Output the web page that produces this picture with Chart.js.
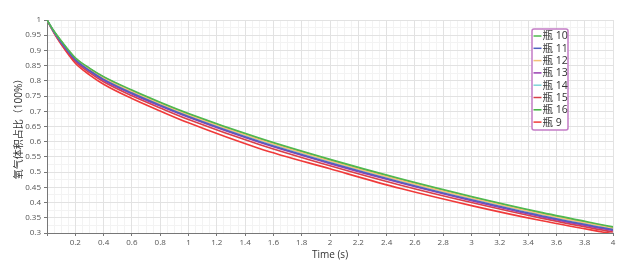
<!DOCTYPE html>
<html><head><meta charset="utf-8">
<script src="https://cdn.jsdelivr.net/npm/chart.js@4/dist/chart.umd.min.js"></script>
<style>html,body{margin:0;padding:0;background:#fff}#wrap{width:636px;height:274px}</style>
</head><body><div id="wrap"><canvas id="c" width="636" height="274"></canvas></div>
<script>
const times = [0, 0.05, 0.1, 0.2, 0.3, 0.4, 0.6, 0.8, 1.0, 1.5, 2.0, 2.5, 3.0, 3.5, 4.0];
const seriesNames = ['瓶 10', '瓶 11', '瓶 12', '瓶 13', '瓶 14', '瓶 15', '瓶 16', '瓶 9'];
const bottle10 = [1.0, 0.963, 0.932, 0.876, 0.842, 0.814, 0.770, 0.730, 0.693, 0.612, 0.542, 0.478, 0.420, 0.367, 0.320];
const bottle11 = [1.0, 0.960, 0.927, 0.870, 0.834, 0.805, 0.760, 0.720, 0.683, 0.601, 0.531, 0.467, 0.409, 0.356, 0.311];
const bottle12 = [1.0, 0.961, 0.929, 0.873, 0.838, 0.809, 0.765, 0.725, 0.688, 0.607, 0.537, 0.473, 0.415, 0.362, 0.316];
const bottle13 = [1.0, 0.960, 0.926, 0.868, 0.832, 0.802, 0.757, 0.717, 0.680, 0.598, 0.528, 0.464, 0.406, 0.353, 0.308];
const bottle14 = [1.0, 0.961, 0.928, 0.872, 0.837, 0.808, 0.764, 0.724, 0.687, 0.606, 0.536, 0.472, 0.414, 0.361, 0.315];
const bottle15 = [1.0, 0.958, 0.923, 0.864, 0.827, 0.797, 0.751, 0.711, 0.673, 0.591, 0.521, 0.457, 0.400, 0.348, 0.303];
const bottle16 = [1.0, 0.962, 0.930, 0.874, 0.840, 0.812, 0.767, 0.727, 0.690, 0.609, 0.539, 0.475, 0.417, 0.364, 0.318];
const bottle9  = [1.0, 0.957, 0.920, 0.858, 0.820, 0.789, 0.742, 0.701, 0.662, 0.578, 0.511, 0.446, 0.390, 0.340, 0.297];
const yTicks = [1, 0.95, 0.9, 0.85, 0.8, 0.75, 0.7, 0.65, 0.6, 0.55, 0.5, 0.45, 0.4, 0.35, 0.3];
const xTicks = [0.2, 0.4, 0.6, 0.8, 1, 1.2, 1.4, 1.6, 1.8, 2, 2.2, 2.4, 2.6, 2.8, 3, 3.2, 3.4, 3.6, 3.8, 4];

const seriesValues = [bottle10, bottle11, bottle12, bottle13, bottle14, bottle15, bottle16, bottle9];
const colors = ['#4fb84f', '#5060c0', '#f3c07a', '#9a3fb0', '#7fd3d8', '#d8404a', '#3fae3f', '#f03a3a'];

const FONT = '"Open Sans","Noto Sans","Noto Sans CJK SC",sans-serif';

const datasets = seriesNames.map((n, i) => ({
  label: n,
  data: times.map((t, j) => ({x: t, y: seriesValues[i][j]})),
  borderColor: colors[i],
  backgroundColor: colors[i],
  borderWidth: 1.6,
  pointRadius: 0,
  cubicInterpolationMode: 'monotone',
  fill: false
}));

const legendPlugin = {
  id: 'boxLegend',
  afterDraw(chart) {
    const ctx = chart.ctx;
    const ca = chart.chartArea;
    const x0 = ca.right - 81, y0 = ca.top + 9, w = 36, h = 101;
    ctx.save();
    ctx.fillStyle = '#ffffff';
    ctx.fillRect(x0, y0, w, h);
    ctx.strokeStyle = '#c47cc6';
    ctx.lineWidth = 1.5;
    ctx.beginPath();
    if (ctx.roundRect) ctx.roundRect(x0, y0, w, h, 2); else ctx.rect(x0, y0, w, h);
    ctx.stroke();
    ctx.font = '10.5px ' + FONT;
    ctx.textBaseline = 'middle';
    chart.data.datasets.forEach((ds, i) => {
      const yy = y0 + 7 + i * 12.3;
      ctx.strokeStyle = ds.borderColor;
      ctx.lineWidth = 1.5;
      ctx.beginPath();
      ctx.moveTo(x0 + 1.5, yy);
      ctx.lineTo(x0 + 9.5, yy);
      ctx.stroke();
      ctx.fillStyle = '#333';
      ctx.fillText(ds.label, x0 + 10.5, yy + 0.5);
    });
    ctx.restore();
  }
};

new Chart(document.getElementById('c'), {
  type: 'line',
  data: {datasets},
  plugins: [legendPlugin],
  options: {
    responsive: false,
    animation: false,
    events: [],
    layout: {padding: {top: 20, right: 23, left: 0, bottom: 13}},
    plugins: {legend: {display: false}, tooltip: {enabled: false}},
    scales: {
      xm: {
        type: 'linear', min: 0, max: 4, position: 'bottom', display: true,
        ticks: {display: false, stepSize: 0.05},
        grid: {color: '#f3f3f3', lineWidth: 1, drawTicks: false},
        border: {display: false},
        afterFit(s) { s.height = 0; }
      },
      ym: {
        type: 'linear', min: 0.3, max: 1, position: 'left', display: true,
        ticks: {display: false, stepSize: 0.025},
        grid: {color: '#f3f3f3', lineWidth: 1, drawTicks: false},
        border: {display: false},
        afterFit(s) { s.width = 0; }
      },
      x: {
        type: 'linear', min: 0, max: 4, position: 'bottom',
        afterBuildTicks(s) { s.ticks = [{value: 0}].concat(xTicks.map(v => ({value: v}))); },
        ticks: {
          color: '#555', font: {size: 8, family: FONT}, padding: 2, maxRotation: 0, autoSkip: false,
          callback: (v) => v === 0 ? '' : String(v)
        },
        grid: {color: '#e2e2e2', lineWidth: 1, tickLength: 3, tickColor: '#777'},
        border: {color: '#777', width: 1},
        title: {display: true, text: 'Time (s)', color: '#333', font: {size: 10, family: FONT}, padding: {top: 4, bottom: 0}},
        afterFit(s) { s.height = 28; }
      },
      y: {
        type: 'linear', min: 0.3, max: 1, position: 'left',
        afterBuildTicks(s) { s.ticks = yTicks.map(v => ({value: v})); },
        ticks: {color: '#555', font: {size: 8, family: FONT}, padding: 3, autoSkip: false,
          callback: (v) => String(v)},
        grid: {color: '#e2e2e2', lineWidth: 1, tickLength: 3, tickColor: '#777'},
        border: {color: '#777', width: 1},
        title: {display: true, text: '氧气体积占比（100%）', color: '#333', font: {size: 10, family: FONT}, padding: {top: 13, bottom: 0}},
        afterFit(s) { s.width = 47; }
      }
    }
  }
});
</script>
</body></html>
